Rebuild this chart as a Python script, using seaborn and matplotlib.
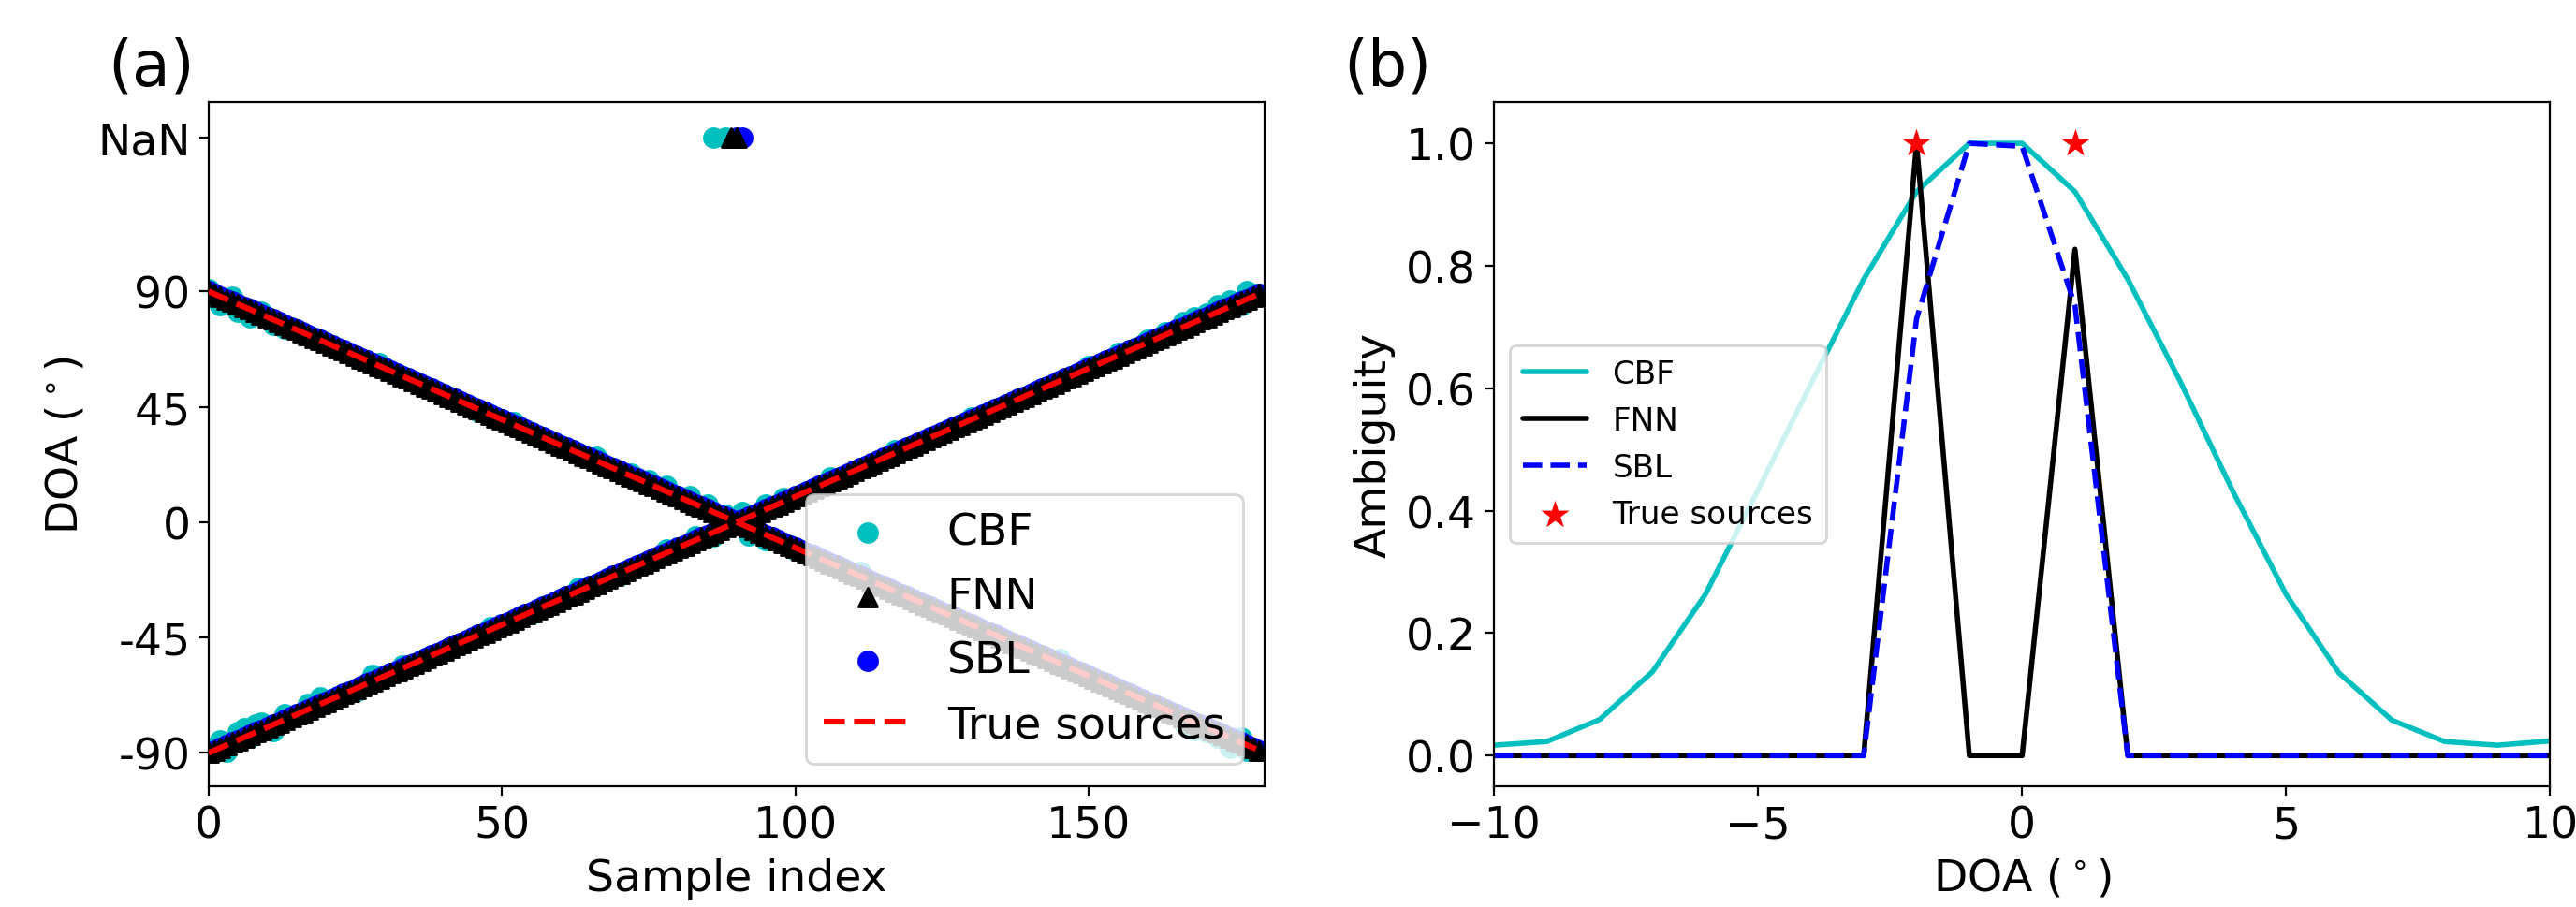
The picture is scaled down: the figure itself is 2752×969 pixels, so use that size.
import numpy as np
import matplotlib
matplotlib.use("Agg")
import matplotlib.pyplot as plt
import seaborn as sns

sns.set_theme(style="ticks")

plt.rcParams["font.family"] = ["DejaVu Sans"]
plt.rcParams["mathtext.fontset"] = "dejavusans"
plt.rcParams["axes.edgecolor"] = "black"
plt.rcParams["axes.linewidth"] = 0.8
plt.rcParams["xtick.color"] = "black"
plt.rcParams["ytick.color"] = "black"
plt.rcParams["xtick.major.size"] = 3.5
plt.rcParams["ytick.major.size"] = 3.5
plt.rcParams["xtick.major.width"] = 0.8
plt.rcParams["ytick.major.width"] = 0.8
plt.rcParams["text.color"] = "black"
plt.rcParams["axes.labelcolor"] = "black"

# plain matplotlib colour codes (seaborn remaps "c", "b", "r")
CYAN = "#00bfbf"
BLACK = "#000000"
BLUE = "#0000ff"
RED = "#ff0000"

# =====================================================
# (a) DOA tracks: two sources sweeping 1 deg per sample
# =====================================================

sample_index = np.arange(180)
source_1_doa = 90 - sample_index
source_2_doa = -90 + sample_index

NAN_LEVEL = 150

# CBF estimation errors (deg), others are zero
cbf_err_idx_1 = [0, 2, 4, 5, 7, 9, 11, 13, 29, 46, 52, 66, 72, 75, 78, 82,
                 85, 88, 92, 95, 100, 111, 130, 145, 160, 166, 168, 170,
                 172, 174, 176, 177]
cbf_err_val_1 = [1, -3.5, 2, -3, -3, 1, -2, -1.5, 1, -1, 1, 1.5, 1, 1.5, 2, 2,
                 2, 1, -3, -2, -1, 1.5, -1, 1.5, -1, -2, -3, -2,
                 -2, -4, 2, -2]
cbf_err_idx_2 = [1, 2, 3, 5, 6, 7, 8, 9, 11, 13, 17, 19, 25, 28, 33, 48, 55,
                 63, 70, 78, 83, 86, 88, 91, 95, 98, 106, 117, 130, 150, 155,
                 160, 163, 166, 168, 170, 172, 174, 176, 177, 178]
cbf_err_val_2 = [-1, 3, -2.5, 3, 3.5, -1, 3, 3, -2.5, 2, 2, 2.5, -1, 2.5, 1, 1,
                 -1, 1.5, -1, 1.5, 1.5, -1.5, 2, 3, 2, 1.5, 1.5, 1, 1, 1, 1,
                 1, 1, 2, 2, 1.5, 2.5, 2.5, -1.5, 3, 1]

# samples where one of the two estimates is missing (plotted at "NaN")
cbf_nan_idx = [86, 88]
fnn_nan_idx = [89, 90]
sbl_nan_idx = [90, 91]

# =====================================================
# (b) Ambiguity functions
# =====================================================

doa_grid = [-10, -9, -8, -7, -6, -5, -4, -3, -2, -1, 0,
            1, 2, 3, 4, 5, 6, 7, 8, 9, 10]
cbf_amb = [0.017, 0.023, 0.059, 0.137, 0.263, 0.434, 0.607, 0.778, 0.921, 1.0, 1.0,
           0.921, 0.778, 0.61, 0.43, 0.263, 0.135, 0.058, 0.023, 0.017, 0.024]
fnn_amb = [0, 0, 0, 0, 0, 0, 0, 0, 1.0, 0, 0,
           0.827, 0, 0, 0, 0, 0, 0, 0, 0, 0]
sbl_amb = [0, 0, 0, 0, 0, 0, 0, 0, 0.713, 1.0, 0.995,
           0.735, 0, 0, 0, 0, 0, 0, 0, 0, 0]
true_doa = [-2, 1]
true_amp = [1.0, 1.0]


def estimates(err_idx_1=(), err_val_1=(), err_idx_2=(), err_val_2=(), nan_idx=()):
    y1 = source_1_doa.astype(float).copy()
    y2 = source_2_doa.astype(float).copy()
    y1[list(err_idx_1)] += np.array(err_val_1, dtype=float)
    y2[list(err_idx_2)] += np.array(err_val_2, dtype=float)
    x = np.concatenate([sample_index, sample_index, nan_idx])
    y = np.concatenate([y1, y2, np.full(len(nan_idx), NAN_LEVEL)])
    return x, y


fig, (ax1, ax2) = plt.subplots(1, 2, figsize=(13.76, 4.85), dpi=200)
fig.subplots_adjust(left=0.081, right=0.990, bottom=0.133, top=0.887, wspace=0.217)

# -----------------------------------------------------
# panel (a)
# -----------------------------------------------------

x, y = estimates(cbf_err_idx_1, cbf_err_val_1, cbf_err_idx_2, cbf_err_val_2, cbf_nan_idx)
sns.scatterplot(x=x, y=y, ax=ax1, color=CYAN, marker="o", s=52,
                linewidth=1, edgecolor=CYAN, label="CBF", zorder=1)

x, y = estimates(nan_idx=fnn_nan_idx)
sns.scatterplot(x=x, y=y, ax=ax1, color=BLACK, marker="^", s=52,
                linewidth=1, edgecolor=BLACK, label="FNN", zorder=1.6)

x, y = estimates(nan_idx=sbl_nan_idx)
sns.scatterplot(x=x, y=y, ax=ax1, color=BLUE, marker="o", s=52,
                linewidth=1, edgecolor=BLUE, label="SBL", zorder=1.3)

ax1.plot(sample_index, source_1_doa, color=RED, ls="--", lw=2.2,
         label="True sources", zorder=3)
ax1.plot(sample_index, source_2_doa, color=RED, ls="--", lw=2.2, zorder=3)

ax1.set_xlim(0, 180)
ax1.set_ylim(-103, 164)
ax1.set_xticks([0, 50, 100, 150])
ax1.set_yticks([-90, -45, 0, 45, 90, NAN_LEVEL])
ax1.set_yticklabels(["-90", "-45", "0", "45", "90", "NaN"])
ax1.tick_params(labelsize=17)
ax1.set_xlabel("Sample index", fontsize=17)
ax1.set_ylabel(r"DOA ($^\circ$)", fontsize=17)
ax1.legend(loc="lower right", fontsize=17, framealpha=0.8, edgecolor="0.8")

# -----------------------------------------------------
# panel (b)
# -----------------------------------------------------

sns.lineplot(x=doa_grid, y=cbf_amb, ax=ax2, color=CYAN, lw=2, label="CBF")
sns.lineplot(x=doa_grid, y=fnn_amb, ax=ax2, color=BLACK, lw=2, label="FNN")
sns.lineplot(x=doa_grid, y=sbl_amb, ax=ax2, color=BLUE, lw=2,
             linestyle="--", label="SBL")
sns.scatterplot(x=true_doa, y=true_amp, ax=ax2, color=RED, marker="*",
                s=130, linewidth=0, label="True sources", zorder=3)

ax2.set_xlim(-10, 10)
ax2.set_ylim(-0.05, 1.068)
ax2.set_xticks([-10, -5, 0, 5, 10])
ax2.set_yticks([0.0, 0.2, 0.4, 0.6, 0.8, 1.0])
ax2.tick_params(labelsize=17)
ax2.set_xlabel(r"DOA ($^\circ$)", fontsize=17)
ax2.set_ylabel("Ambiguity", fontsize=17)
ax2.legend(loc="center left", fontsize=12.3, framealpha=0.8, edgecolor="0.8")

fig.text(0.042, 0.925, "(a)", fontsize=24, va="center", ha="left")
fig.text(0.5215, 0.925, "(b)", fontsize=24, va="center", ha="left")

fig.savefig("out.png", dpi=200)
